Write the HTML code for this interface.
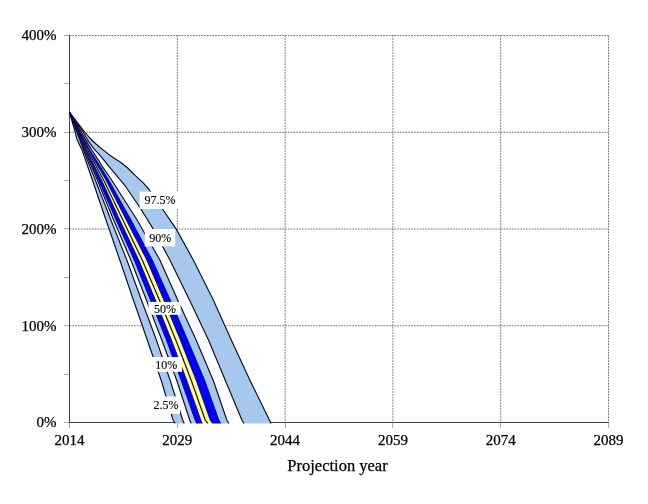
<!DOCTYPE html><html><head><meta charset="utf-8"><title>Projection</title><style>
html,body{margin:0;padding:0;background:#fff;width:648px;height:504px;overflow:hidden}
svg{display:block;will-change:transform}text{font-family:"Liberation Serif","Times New Roman",serif;fill:#000;stroke:#000;stroke-width:0.25px}
</style></head><body>
<svg width="648" height="504" viewBox="0 0 648 504">
<rect width="648" height="504" fill="#fff"/>
<g stroke="#7a7a7a" stroke-width="1" stroke-dasharray="1.8 1" fill="none"><line x1="69.5" y1="325.75" x2="608.5" y2="325.75"/><line x1="69.5" y1="229.00" x2="608.5" y2="229.00"/><line x1="69.5" y1="132.25" x2="608.5" y2="132.25"/><line x1="69.5" y1="35.50" x2="608.5" y2="35.50"/><line x1="177.30" y1="35.5" x2="177.30" y2="422.5"/><line x1="285.10" y1="35.5" x2="285.10" y2="422.5"/><line x1="392.90" y1="35.5" x2="392.90" y2="422.5"/><line x1="500.70" y1="35.5" x2="500.70" y2="422.5"/><line x1="608.50" y1="35.5" x2="608.50" y2="422.5"/></g>
<g stroke="#aaa" stroke-width="1" fill="none">
<line x1="64" y1="422.5" x2="69.5" y2="422.5"/>
<line x1="64" y1="374.5" x2="69.5" y2="374.5"/>
<line x1="64" y1="325.5" x2="69.5" y2="325.5"/>
<line x1="64" y1="277.5" x2="69.5" y2="277.5"/>
<line x1="64" y1="228.5" x2="69.5" y2="228.5"/>
<line x1="64" y1="180.5" x2="69.5" y2="180.5"/>
<line x1="64" y1="132.5" x2="69.5" y2="132.5"/>
<line x1="64" y1="83.5" x2="69.5" y2="83.5"/>
<line x1="64" y1="35.5" x2="69.5" y2="35.5"/>
<line x1="69.5" y1="422.5" x2="69.5" y2="428"/>
<line x1="177.5" y1="422.5" x2="177.5" y2="428"/>
<line x1="285.5" y1="422.5" x2="285.5" y2="428"/>
<line x1="392.5" y1="422.5" x2="392.5" y2="428"/>
<line x1="500.5" y1="422.5" x2="500.5" y2="428"/>
<line x1="608.5" y1="422.5" x2="608.5" y2="428"/>
</g>
<g stroke="#444" stroke-width="1" fill="none">
<line x1="69.5" y1="35" x2="69.5" y2="423.0"/>
<line x1="69.0" y1="422.5" x2="609" y2="422.5"/>
</g>
<polygon points="69.50,112.30 75.20,132.00 76.90,139.20 82.00,150.00 92.40,180.00 105.99,220.00 119.80,260.00 133.40,300.00 147.30,340.00 161.38,381.00 173.10,420.00 174.40,422.20 175.11,423.40 184.25,423.40 183.70,422.20 182.70,420.00 170.38,381.00 156.40,340.00 141.40,300.00 126.80,260.00 110.89,220.00 95.30,180.00 83.50,150.00 77.00,132.40 69.50,112.30" fill="#a6c8ee"/>
<polygon points="69.50,112.30 77.00,132.40 83.50,150.00 95.30,180.00 110.89,220.00 126.80,260.00 141.40,300.00 156.40,340.00 170.38,381.00 182.70,420.00 183.70,422.20 184.25,423.40 191.09,423.40 190.60,422.20 189.70,420.00 176.98,381.00 161.80,340.00 146.40,300.00 130.80,260.00 113.59,220.00 97.30,180.00 84.50,150.00 77.50,132.40 69.50,112.30" fill="#ffffff"/>
<polygon points="69.50,112.30 77.50,132.40 84.50,150.00 97.30,180.00 113.59,220.00 130.80,260.00 146.40,300.00 161.80,340.00 176.98,381.00 189.70,420.00 190.60,422.20 191.09,423.40 196.80,423.40 196.20,422.20 195.10,420.00 181.38,381.00 166.40,340.00 150.40,300.00 134.20,260.00 116.09,220.00 98.50,180.00 85.50,150.00 78.00,132.40 69.50,112.30" fill="#a6c8ee"/>
<polygon points="69.50,112.30 78.00,132.40 85.50,150.00 98.50,180.00 116.09,220.00 134.20,260.00 150.40,300.00 166.40,340.00 181.38,381.00 195.10,420.00 196.20,422.20 196.80,423.40 202.19,423.40 201.70,422.20 200.80,420.00 186.98,381.00 171.40,340.00 155.40,300.00 138.80,260.00 119.79,220.00 101.60,180.00 86.50,150.00 78.50,132.40 69.50,112.30" fill="#0000f8"/>
<polygon points="69.50,112.30 78.50,132.40 86.50,150.00 101.60,180.00 119.79,220.00 138.80,260.00 155.40,300.00 171.40,340.00 186.98,381.00 200.80,420.00 201.70,422.20 202.19,423.40 207.67,423.40 206.80,422.20 205.20,420.00 191.48,381.00 175.80,340.00 159.40,300.00 142.20,260.00 122.89,220.00 103.60,180.00 87.50,150.00 79.00,132.40 69.50,112.30" fill="#fcfa90"/>
<polygon points="69.50,112.30 79.00,132.40 87.50,150.00 103.60,180.00 122.89,220.00 142.20,260.00 159.40,300.00 175.80,340.00 191.48,381.00 205.20,420.00 206.80,422.20 207.67,423.40 212.83,423.40 211.90,422.20 210.20,420.00 196.48,381.00 180.40,340.00 163.90,300.00 146.80,260.00 126.29,220.00 105.90,180.00 88.50,150.00 79.50,132.40 69.50,112.30" fill="#fcfa90"/>
<polygon points="69.50,112.30 79.50,132.40 88.50,150.00 105.90,180.00 126.29,220.00 146.80,260.00 163.90,300.00 180.40,340.00 196.48,381.00 210.20,420.00 211.90,422.20 212.83,423.40 220.96,423.40 220.20,422.20 218.80,420.00 204.98,381.00 187.70,340.00 170.30,300.00 152.30,260.00 131.09,220.00 108.80,180.00 90.00,150.00 80.50,132.40 69.50,112.30" fill="#0000f8"/>
<polygon points="69.50,112.30 80.50,132.40 90.00,150.00 108.80,180.00 131.09,220.00 152.30,260.00 170.30,300.00 187.70,340.00 204.98,381.00 218.80,420.00 220.20,422.20 220.96,423.40 228.81,423.40 228.10,422.20 226.80,420.00 213.48,381.00 196.10,340.00 177.70,300.00 159.90,260.00 137.09,220.00 111.60,180.00 102.40,166.70 99.10,161.10 93.60,152.80 88.00,143.90 81.50,132.40 69.50,112.30" fill="#a6c8ee"/>
<polygon points="69.50,112.30 81.50,132.40 88.00,143.90 93.60,152.80 99.10,161.10 102.40,166.70 111.60,180.00 137.09,220.00 159.90,260.00 177.70,300.00 196.10,340.00 213.48,381.00 226.80,420.00 228.10,422.20 228.81,423.40 243.91,423.40 243.20,422.20 241.90,420.00 225.58,381.00 208.50,340.00 189.50,300.00 169.90,260.00 153.45,229.40 140.10,207.80 125.40,186.20 109.10,166.70 104.70,161.10 99.10,154.40 93.60,148.30 88.60,141.70 83.30,132.20 69.50,112.30" fill="#ffffff"/>
<polygon points="69.50,112.30 83.30,132.20 88.60,141.70 93.60,148.30 99.10,154.40 104.70,161.10 109.10,166.70 125.40,186.20 140.10,207.80 153.45,229.40 169.90,260.00 189.50,300.00 208.50,340.00 225.58,381.00 241.90,420.00 243.20,422.20 243.91,423.40 271.10,423.40 270.50,422.20 269.40,420.00 250.30,381.00 231.30,340.00 213.30,300.00 193.30,260.00 176.40,229.40 162.50,209.00 149.10,189.50 143.00,182.70 135.60,175.90 127.70,168.00 121.30,162.80 115.80,159.20 110.20,155.60 104.70,151.10 99.10,146.70 90.80,139.20 84.70,132.00 69.50,112.30" fill="#a6c8ee"/>
<g fill="none" stroke="#0d0d1a" stroke-width="1.15" stroke-linejoin="round">
<polyline points="69.50,112.30 75.20,132.00 76.90,139.20 82.00,150.00 92.40,180.00 105.99,220.00 119.80,260.00 133.40,300.00 147.30,340.00 161.38,381.00 173.10,420.00 174.40,422.20 175.11,423.40"/>
<polyline points="69.50,112.30 77.00,132.40 83.50,150.00 95.30,180.00 110.89,220.00 126.80,260.00 141.40,300.00 156.40,340.00 170.38,381.00 182.70,420.00 183.70,422.20 184.25,423.40"/>
<polyline points="69.50,112.30 77.50,132.40 84.50,150.00 97.30,180.00 113.59,220.00 130.80,260.00 146.40,300.00 161.80,340.00 176.98,381.00 189.70,420.00 190.60,422.20 191.09,423.40"/>
<polyline points="69.50,112.30 79.00,132.40 87.50,150.00 103.60,180.00 122.89,220.00 142.20,260.00 159.40,300.00 175.80,340.00 191.48,381.00 205.20,420.00 206.80,422.20 207.67,423.40"/>
<polyline points="69.50,112.30 81.50,132.40 88.00,143.90 93.60,152.80 99.10,161.10 102.40,166.70 111.60,180.00 137.09,220.00 159.90,260.00 177.70,300.00 196.10,340.00 213.48,381.00 226.80,420.00 228.10,422.20 228.81,423.40"/>
<polyline points="69.50,112.30 83.30,132.20 88.60,141.70 93.60,148.30 99.10,154.40 104.70,161.10 109.10,166.70 125.40,186.20 140.10,207.80 153.45,229.40 169.90,260.00 189.50,300.00 208.50,340.00 225.58,381.00 241.90,420.00 243.20,422.20 243.91,423.40"/>
<polyline points="69.50,112.30 84.70,132.00 90.80,139.20 99.10,146.70 104.70,151.10 110.20,155.60 115.80,159.20 121.30,162.80 127.70,168.00 135.60,175.90 143.00,182.70 149.10,189.50 162.50,209.00 176.40,229.40 193.30,260.00 213.30,300.00 231.30,340.00 250.30,381.00 269.40,420.00 270.50,422.20 271.10,423.40"/>
</g>
<g fill="none" stroke="#000070" stroke-width="0.9" stroke-linejoin="round">
<polyline points="69.50,112.30 78.00,132.40 85.50,150.00 98.50,180.00 116.09,220.00 134.20,260.00 150.40,300.00 166.40,340.00 181.38,381.00 195.10,420.00 196.20,422.20 196.80,423.40"/>
<polyline points="69.50,112.30 78.50,132.40 86.50,150.00 101.60,180.00 119.79,220.00 138.80,260.00 155.40,300.00 171.40,340.00 186.98,381.00 200.80,420.00 201.70,422.20 202.19,423.40"/>
<polyline points="69.50,112.30 79.50,132.40 88.50,150.00 105.90,180.00 126.29,220.00 146.80,260.00 163.90,300.00 180.40,340.00 196.48,381.00 210.20,420.00 211.90,422.20 212.83,423.40"/>
<polyline points="69.50,112.30 80.50,132.40 90.00,150.00 108.80,180.00 131.09,220.00 152.30,260.00 170.30,300.00 187.70,340.00 204.98,381.00 218.80,420.00 220.20,422.20 220.96,423.40"/>
</g>
<rect x="139.7" y="191.6" width="39.6" height="17.4" fill="#fff"/>
<text x="160.1" y="204.1" font-size="12" text-anchor="middle" style="stroke-width:0.12px">97.5%</text>
<rect x="144.8" y="229.0" width="30.4" height="17.4" fill="#fff"/>
<text x="160.2" y="242.1" font-size="12" text-anchor="middle" style="stroke-width:0.12px">90%</text>
<rect x="148.5" y="301.9" width="32.1" height="12.9" fill="#fff"/>
<text x="165.1" y="312.8" font-size="12" text-anchor="middle" style="stroke-width:0.12px">50%</text>
<rect x="150.0" y="357.1" width="32.0" height="14.7" fill="#fff"/>
<text x="166.2" y="368.6" font-size="12" text-anchor="middle" style="stroke-width:0.12px">10%</text>
<rect x="150.0" y="396.4" width="30.0" height="17.4" fill="#fff"/>
<text x="166.0" y="409.0" font-size="12" text-anchor="middle" style="stroke-width:0.12px">2.5%</text>
<text x="56.6" y="426.85" font-size="15" text-anchor="end">0%</text>
<text x="56.6" y="330.80" font-size="15" text-anchor="end">100%</text>
<text x="56.6" y="233.80" font-size="15" text-anchor="end">200%</text>
<text x="56.6" y="136.80" font-size="15" text-anchor="end">300%</text>
<text x="56.6" y="39.60" font-size="15" text-anchor="end">400%</text>
<text x="69.5" y="445" font-size="15" text-anchor="middle">2014</text>
<text x="177.3" y="445" font-size="15" text-anchor="middle">2029</text>
<text x="285.1" y="445" font-size="15" text-anchor="middle">2044</text>
<text x="392.9" y="445" font-size="15" text-anchor="middle">2059</text>
<text x="500.7" y="445" font-size="15" text-anchor="middle">2074</text>
<text x="608.5" y="445" font-size="15" text-anchor="middle">2089</text>
<text x="337.5" y="471.1" font-size="16.5" text-anchor="middle">Projection year</text>
</svg></body></html>
